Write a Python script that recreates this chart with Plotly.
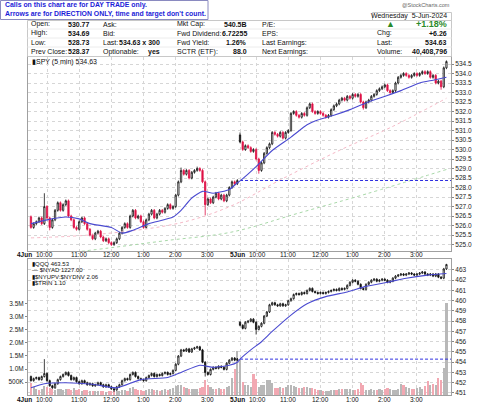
import plotly.graph_objects as go

W, H = 480, 406
def px(x): return x / W
def py(y): return 1 - y / H

# ---------------- data ----------------
SPY_CLOSE = [
    525.9, 526.1, 526.2, 526.4, 526.1, 527.0, 526.4, 525.9, 526.3, 526.8,
    527.2, 526.8, 527.1, 527.3, 526.5, 526.3, 525.9, 525.8, 526.2, 526.4,
    526.1, 525.8, 525.5, 525.3, 525.6, 525.7, 525.4, 525.2, 525.3, 525.1,
    525.0, 525.1, 525.3, 525.6, 525.9, 526.1, 525.9, 526.5, 526.8, 526.4,
    526.5, 526.2, 525.9, 526.3, 526.6, 526.8, 526.4, 526.6, 526.8, 526.7,
    526.9, 527.1, 526.9, 527.0, 527.6, 528.3, 528.9, 528.7, 528.9, 528.5,
    528.8, 528.9, 529.0, 528.9, 528.3, 527.1, 527.4, 527.2, 527.5, 527.7,
    527.4, 527.6, 527.3, 527.6, 528.0, 528.3, 528.2, 528.37,
    530.4, 530.0, 530.2, 530.1, 529.9, 530.0, 529.5, 528.9, 529.3, 529.8,
    530.1, 530.3, 530.9, 530.8, 530.7, 530.9, 530.6, 530.9, 531.0, 531.9,
    532.0, 531.8, 531.7, 531.9, 531.8, 532.2, 532.4, 532.0, 531.9, 532.0,
    531.9, 531.8, 531.7, 531.8, 532.1, 532.3, 532.4, 532.6, 532.7, 532.6,
    532.8, 532.7, 532.9, 532.8, 532.9, 532.5, 532.2, 532.5, 532.6, 532.8,
    532.9, 533.1, 533.2, 533.3, 533.4, 533.1, 533.0, 533.1, 533.5, 533.8,
    533.9, 534.0, 533.9, 533.8, 533.9, 534.0, 533.9, 534.0, 534.1, 534.0,
    534.1, 533.8, 533.9, 533.5, 533.6, 533.3, 534.3, 534.63,
]
SPY_SESSION_OPEN = {0: 526.46, 78: 530.77}
SPY_HIGH_OVR = {5: 527.7, 78: 530.9, 56: 529.05, 62: 529.1, 155: 534.69}
SPY_LOW_OVR = {65: 526.55, 85: 528.73, 124: 532.1, 153: 533.15, 7: 525.75}
SPY_PREV_CLOSE = 528.37

QQQ_CLOSE = [
    452.2, 452.4, 452.5, 452.3, 452.6, 452.9, 452.2, 451.7, 451.5, 451.9,
    452.3, 452.6, 452.8, 453.0, 452.7, 452.3, 452.5, 452.1, 451.9, 452.2,
    452.0, 451.8, 451.9, 451.7, 451.8, 452.0, 451.8, 451.6, 451.8, 451.6,
    451.4, 451.3, 451.6, 451.8, 452.2, 452.4, 452.3, 452.8, 453.0, 452.6,
    452.4, 452.3, 452.2, 452.5, 452.7, 452.9, 452.6, 452.8, 452.7, 452.9,
    453.0, 452.8, 452.9, 453.2, 453.8, 454.6, 455.2, 455.1, 455.3, 455.0,
    455.3, 455.4, 455.5, 455.2, 454.0, 453.0, 452.8, 453.3, 453.5, 453.4,
    453.6, 453.5, 453.3, 453.9, 454.2, 454.4, 454.2, 454.3,
    457.6, 457.3, 457.9, 458.0, 458.2, 457.9, 457.2, 457.5, 457.8, 458.5,
    458.9, 459.6, 459.8, 459.6, 459.5, 459.7, 459.5, 459.6, 460.0, 460.2,
    460.6, 460.7, 460.6, 460.8, 460.7, 461.0, 461.2, 460.9, 460.8, 460.7,
    460.8, 460.7, 460.8, 460.9, 461.0, 461.1, 461.0, 461.2, 461.1, 461.2,
    461.5, 461.8, 462.0, 461.9, 461.6, 461.2, 461.1, 461.6, 461.8, 462.0,
    462.1, 461.9, 462.0, 462.1, 462.0, 461.8, 461.9, 462.2, 462.4, 462.5,
    462.6, 462.5, 462.6, 462.7, 462.6, 462.5, 462.6, 462.7, 462.8, 462.6,
    462.5, 462.6, 462.4, 462.6, 462.3, 462.2, 463.1, 463.53,
]
QQQ_SESSION_OPEN = {0: 452.6, 78: 457.9}
QQQ_HIGH_OVR = {5: 454.3, 155: 463.6}
QQQ_LOW_OVR = {84: 456.7, 65: 452.6, 31: 451.1}
QQQ_PREV_CLOSE = 454.3

VOLUME_K = [
    460, 300, 250, 200, 230, 330, 300, 280, 220, 200,
    250, 220, 200, 230, 250, 200, 260, 180, 220, 170,
    180, 200, 170, 150, 160, 140, 170, 150, 130, 140,
    160, 150, 140, 170, 200, 180, 160, 260, 300, 220,
    200, 180, 170, 200, 230, 220, 190, 180, 170, 200,
    220, 210, 230, 260, 330, 400, 380, 300, 280, 250,
    230, 220, 240, 260, 320, 580, 380, 300, 250, 220,
    260, 230, 250, 300, 330, 650, 1000, 1700,
    1350, 500, 390, 380, 310, 810, 600, 300, 380, 390,
    580, 560, 460, 270, 260, 300, 280, 300, 380, 390,
    350, 300, 280, 260, 300, 320, 280, 260, 240, 200,
    180, 160, 150, 170, 180, 200, 210, 230, 250, 220,
    240, 230, 200, 180, 250, 460, 380, 200, 180, 230,
    190, 200, 240, 210, 220, 280, 240, 210, 200, 230,
    420, 380, 300, 270, 230, 220, 260, 300, 250, 330,
    540, 380, 420, 400, 650, 580, 1040, 3540,
]

SPY_MA_IDX = [0, 6, 13, 18, 22, 30, 34, 38, 44, 53, 56, 60, 64, 68, 74, 77, 78, 84, 90, 97,
              103, 107, 113, 119, 125, 131, 138, 145, 150, 155]
SPY_MA = [526.1, 526.3, 526.45, 526.35, 526.1, 525.9, 525.6, 525.75, 526.1, 526.45,
          526.8, 527.45, 527.8, 527.7, 527.9, 528.25, 528.35, 529.1, 529.95, 530.65,
          531.3, 531.55, 531.8, 532.1, 532.45, 532.75, 533.1, 533.5, 533.65, 533.8]
SPY_MA_PINK_IDX = [0, 26, 56, 75, 93, 115, 134, 155]
SPY_MA_PINK = [525.35, 525.55, 526.15, 527.05, 528.4, 529.95, 531.15, 532.7]
SPY_MA_GREEN_IDX = [10, 28, 50, 75, 100, 125, 155]
SPY_MA_GREEN = [524.5, 524.8, 525.2, 525.66, 526.66, 527.66, 528.95]

QQQ_MA_IDX = [0, 5, 13, 23, 32, 41, 51, 56, 63, 68, 74, 77, 78, 82, 86, 90, 97, 103, 110, 118,
              125, 133, 140, 148, 155]
QQQ_MA = [451.5, 451.9, 452.0, 451.85, 451.5, 452.3, 452.5, 453.0, 453.7, 453.5,
          453.7, 454.0, 454.3, 455.2, 456.0, 457.0, 458.6, 459.7, 460.4, 460.85,
          461.4, 461.8, 462.2, 462.5, 462.65]

HOUR_IDX = [6, 18, 30, 42, 54, 66, 78, 84, 96, 108, 120, 132, 144]
HOUR_LABELS = ["10:00", "11:00", "12:00", "1:00", "2:00", "3:00", "", "10:00",
               "11:00", "12:00", "1:00", "2:00", "3:00"]
DAY_LABELS = ["4Jun", "5Jun"]

SPY_YTICKS = [525 + 0.5 * k for k in range(20)]
QQQ_YTICKS = list(range(451, 464))
VOL_TICKS = [500e3, 1e6, 1.5e6, 2e6, 2.5e6, 3e6, 3.5e6]
VOL_LABELS = ["500K", "1.0M", "1.5M", "2.0M", "2.5M", "3.0M", "3.5M"]

# ---------------- derived ohlc ----------------
def ohlc(close, sess_open, hi_ovr, lo_ovr, wick):
    n = len(close)
    o = [sess_open[i] if i in sess_open else close[i - 1] for i in range(n)]
    h = [hi_ovr.get(i, max(o[i], close[i]) + wick) for i in range(n)]
    l = [lo_ovr.get(i, min(o[i], close[i]) - wick) for i in range(n)]
    return o, h, l

N = len(SPY_CLOSE)
X = list(range(N))
so, sh, sl = ohlc(SPY_CLOSE, SPY_SESSION_OPEN, SPY_HIGH_OVR, SPY_LOW_OVR, 0.07)
qo, qh, ql = ohlc(QQQ_CLOSE, QQQ_SESSION_OPEN, QQQ_HIGH_OVR, QQQ_LOW_OVR, 0.1)

spy_prev = [so[0]] + SPY_CLOSE[:-1]
blk = [i for i in X if SPY_CLOSE[i] >= spy_prev[i]]
red = [i for i in X if SPY_CLOSE[i] < spy_prev[i]]

RED = "#de1246"
BLUE = "#4a4ad0"
FONT = "Liberation Sans, Arial, sans-serif"

def candle(idx, o, h, l, c, col, dfill, xa, ya):
    return go.Candlestick(
        x=idx, open=[o[i] for i in idx], high=[h[i] for i in idx],
        low=[l[i] for i in idx], close=[c[i] for i in idx],
        increasing=dict(line=dict(color=col, width=0.8), fillcolor="white"),
        decreasing=dict(line=dict(color=col, width=0.8), fillcolor=dfill),
        whiskerwidth=0, xaxis=xa, yaxis=ya, showlegend=False, hoverinfo="skip")

fig = go.Figure()

# top panel
fig.add_trace(go.Scatter(x=SPY_MA_GREEN_IDX, y=SPY_MA_GREEN, mode="lines",
                         line=dict(color="#a8d8a8", width=1, dash="dot", shape="spline"),
                         xaxis="x", yaxis="y", showlegend=False, hoverinfo="skip"))
fig.add_trace(go.Scatter(x=SPY_MA_PINK_IDX, y=SPY_MA_PINK, mode="lines",
                         line=dict(color="#f5b8c6", width=1, dash="dot", shape="spline"),
                         xaxis="x", yaxis="y", showlegend=False, hoverinfo="skip"))
fig.add_trace(go.Scatter(x=[78, 157], y=[SPY_PREV_CLOSE, SPY_PREV_CLOSE], mode="lines",
                         line=dict(color="#3030e0", width=1, dash="3px,2px"),
                         xaxis="x", yaxis="y", showlegend=False, hoverinfo="skip"))
fig.add_trace(go.Scatter(x=SPY_MA_IDX, y=SPY_MA, mode="lines",
                         line=dict(color=BLUE, width=1.1, shape="spline", smoothing=0.6),
                         xaxis="x", yaxis="y", showlegend=False, hoverinfo="skip"))
fig.add_trace(candle(blk, so, sh, sl, SPY_CLOSE, "#111111", "#111111", "x", "y"))
fig.add_trace(candle(red, so, sh, sl, SPY_CLOSE, RED, RED, "x", "y"))

# bottom panel: volume (y2) + QQQ (y3 overlay)
qprev = [qo[0]] + QQQ_CLOSE[:-1]
vcol = ["#b8b8b8" if QQQ_CLOSE[i] >= qprev[i] else "#f2a8b2" for i in X]
fig.add_trace(go.Bar(x=X, y=[v * 1000 for v in VOLUME_K], marker=dict(color=vcol, line=dict(width=0)),
                     width=0.8, xaxis="x2", yaxis="y2", showlegend=False, hoverinfo="skip"))
fig.add_trace(go.Scatter(x=[78, 157], y=[QQQ_PREV_CLOSE, QQQ_PREV_CLOSE], mode="lines",
                         line=dict(color="#3030e0", width=1, dash="3px,2px"),
                         xaxis="x2", yaxis="y3", showlegend=False, hoverinfo="skip"))
fig.add_trace(go.Scatter(x=QQQ_MA_IDX, y=QQQ_MA, mode="lines",
                         line=dict(color=BLUE, width=1.1, shape="spline", smoothing=0.6),
                         xaxis="x2", yaxis="y3", showlegend=False, hoverinfo="skip"))
fig.add_trace(candle(X, qo, qh, ql, QQQ_CLOSE, "#111111", "#111111", "x2", "y3"))

GRID = dict(showgrid=True, gridcolor="#d6d6d6", griddash="dot", gridwidth=1, zeroline=False,
            showline=True, linecolor="#a0a0a0", linewidth=1, mirror=True)
XR = [-1.1, 156.7]
tickfont = dict(family=FONT, size=6.5, color="#222")

fig.update_layout(
    width=W, height=H, margin=dict(l=0, r=0, t=0, b=0),
    paper_bgcolor="white", plot_bgcolor="white", bargap=0,
    xaxis=dict(domain=[px(28), px(451)], range=XR, anchor="y", tickvals=HOUR_IDX,
               showticklabels=False, ticks="", rangeslider=dict(visible=False), **GRID),
    yaxis=dict(domain=[py(251), py(57)], range=[524.66, 534.87], side="right", anchor="x",
               tickvals=SPY_YTICKS, tickformat=".1f", ticks="outside", ticklen=2,
               tickcolor="#888", tickfont=tickfont, **GRID),
    xaxis2=dict(domain=[px(28), px(451)], range=XR, anchor="y2", tickvals=HOUR_IDX,
                showticklabels=False, ticks="", rangeslider=dict(visible=False), **GRID),
    yaxis2=dict(domain=[py(395), py(259)], range=[0, 5.23e6], side="left", anchor="x2",
                tickvals=VOL_TICKS, ticktext=VOL_LABELS, ticks="outside", ticklen=2,
                tickcolor="#888", tickfont=tickfont, showgrid=False, zeroline=False,
                showline=True, linecolor="#a0a0a0", mirror=True),
    yaxis3=dict(range=[450.8, 464.07], overlaying="y2", side="right", anchor="x2",
                tickvals=QQQ_YTICKS, ticks="outside", ticklen=2, tickcolor="#888",
                tickfont=tickfont, showgrid=True, gridcolor="#d6d6d6", griddash="dot",
                zeroline=False, showline=False),
)

ann = []
def A(text, x, y, size=7, color="#111", xanchor="left", bold=False, xref="paper"):
    t = f"<b>{text}</b>" if bold else text
    ann.append(dict(text=t, x=x if xref != "paper" else px(x), y=py(y), xref=xref, yref="paper",
                    xanchor=xanchor, yanchor="middle", showarrow=False,
                    font=dict(family=FONT, size=size, color=color)))

# x-axis labels for both panels
for ylab in (255, 399):
    A("4Jun", 33.5, ylab, 6.5, xanchor="right", bold=True)
    A("10:00", 33.5, ylab, 6.5)
    A("5Jun", 247, ylab, 6.5, xanchor="right", bold=True)
    A("10:00", 247, ylab, 6.5)
    for i, lab in zip(HOUR_IDX, HOUR_LABELS):
        if lab and i not in (6, 84):
            A(lab, i, ylab, 6.5, xanchor="center", xref="x")

# header notice box
BLUE_TXT = "#1c1cd8"
A("Calls on this chart are for DAY TRADE only.", 3, 5.5, 6.9, BLUE_TXT, bold=True)
A("Arrows are for DIRECTION ONLY, time and target don't count.", 3, 13.8, 6.9, BLUE_TXT, bold=True)
A("@StockCharts.com", 452, 5, 5.5, "#666", xanchor="right")

rows = [24.5, 33.5, 42.5, 51.5]
for y, lab, val in zip(rows, ["Open:", "High:", "Low:", "Prev Close:"],
                       ["530.77", "534.69", "528.73", "528.37"]):
    A(lab, 29, y)
    A(val, 92, y, xanchor="right", bold=True)
for y, lab, val in zip(rows, ["Ask:", "Bid:", "Last:", "Optionable:"],
                       ["", "", "534.63 x 300", "yes"]):
    A(lab, 101, y)
    if val:
        A(val, 162, y, xanchor="right", bold=True)
for y, lab, val in zip(rows, ["Mkt Cap:", "Fwd Dividend:", "Fwd Yield:", "SCTR (ETF):"],
                       ["540.5B", "6.72255", "1.26%", "88.0"]):
    A(lab, 175, y)
    A(val, 249, y, xanchor="right", bold=True)
for y, lab in zip(rows, ["P/E:", "EPS:", "Last Earnings:", "Next Earnings:"]):
    A(lab, 260, y)
A("Wednesday  5-Jun-2024", 449, 16.5, xanchor="right")
A("▲", 390, 24.5, 9, "#2a8a2a", xanchor="center")
A("+1.18%", 449, 24.5, 9, "#2a8a2a", xanchor="right", bold=True)
for y, lab, val in zip(rows[1:], ["Chg:", "Last:", "Volume:"], ["+6.26", "534.63", "40,408,796"]):
    A(lab, 375, y)
    A(val, 449, y, xanchor="right", bold=True)

# panel labels
A("▮SPY (5 min) 534.63", 29.5, 61.5, 7)
A("▮QQQ 463.53", 29.5, 264, 6)
A("— $NYAD 1227.00", 29.5, 270.3, 6)
A("▮$NYUPV:$NYDNV 2.06", 29.5, 276.6, 6)
A("▮$TRIN 1.10", 29.5, 283, 6)

fig.update_layout(annotations=ann)

def rect(x0, y0, x1, y1, color, width=1):
    return dict(type="rect", xref="paper", yref="paper", x0=px(x0), x1=px(x1),
                y0=py(y1), y1=py(y0), line=dict(color=color, width=width), layer="above")
def hline(x0, x1, y, color):
    return dict(type="line", xref="paper", yref="paper", x0=px(x0), x1=px(x1),
                y0=py(y), y1=py(y), line=dict(color=color, width=1))

shapes = [
    rect(27.5, 20.5, 451.5, 56.5, "#c8c8c8"),
    rect(372.5, 12.5, 451.5, 20.5, "#c8c8c8"),
    hline(27.5, 451.5, 29, "#ececec"),
    hline(27.5, 451.5, 38, "#ececec"),
    hline(27.5, 451.5, 47, "#ececec"),
    dict(type="rect", xref="paper", yref="paper", x0=px(0.5), x1=px(208), y0=py(19.5), y1=py(0.5),
         line=dict(color="#8a8ac0", width=1), fillcolor="white", layer="above"),
]
fig.update_layout(shapes=shapes)

fig.write_html("out.html")
